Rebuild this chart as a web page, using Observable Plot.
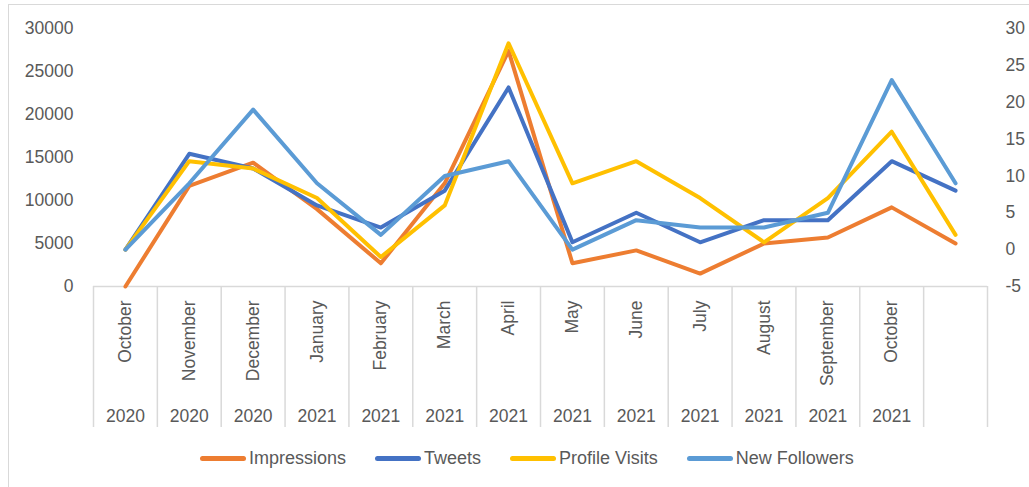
<!DOCTYPE html>
<html>
<head>
<meta charset="utf-8">
<script src="https://cdn.jsdelivr.net/npm/d3@7"></script>
<script src="https://cdn.jsdelivr.net/npm/@observablehq/plot@0.6"></script>
<style>
  html, body { margin: 0; padding: 0; background: #fff; overflow: hidden; }
  body { width: 1029px; height: 487px; position: relative; font-family: "Liberation Sans", Arial, sans-serif; }
  #frame { position: absolute; left: 8px; top: 4px; width: 1100px; height: 600px;
           border-top: 1.5px solid #d9d9d9; border-left: 1.5px solid #d9d9d9; pointer-events: none; }
  #chart { position: absolute; left: 0; top: 0; }
  #legend { position: absolute; left: 200px; top: 446px; height: 24px; display: flex; align-items: center;
            font-size: 18px; color: #595959; white-space: nowrap; }
  .item { display: flex; align-items: center; margin-right: 29px; }
  .sw { width: 46px; height: 5px; border-radius: 3px; margin-right: 3px; }
</style>
</head>
<body>
<div id="chart"></div>
<div id="legend"></div>
<div id="frame"></div>
<script>
// Category labels (two-level axis); the last slot is empty
const months = ["October","November","December","January","February","March","April","May","June","July","August","September","October",""];
const years  = ["2020","2020","2020","2021","2021","2021","2021","2021","2021","2021","2021","2021","2021",""];

// Series values (Impressions on left axis, others on right axis)
const impressions   = [0, 11700, 14400, 9000, 2700, 12000, 27400, 2700, 4200, 1500, 5000, 5700, 9200, 5000];
const tweets        = [0, 13, 11, 6, 3, 8, 22, 1, 5, 1, 4, 4, 12, 8];
const profileVisits = [0, 12, 11, 7, -1, 6, 28, 9, 12, 7, 1, 7, 16, 2];
const newFollowers  = [0, 9, 19, 9, 2, 10, 12, 0, 4, 3, 3, 5, 23, 9];

// Axis ticks
const leftTicks  = [0, 5000, 10000, 15000, 20000, 25000, 30000];
const rightTicks = [-5, 0, 5, 10, 15, 20, 25, 30];

const seriesNames  = ["Impressions", "Tweets", "Profile Visits", "New Followers"];
const seriesColors = ["#ED7D31", "#4472C4", "#FFC000", "#5B9BD5"];

// secondary axis mapping: right [-5, 30] -> left [0, 30000]
const leftDomain = [0, 30000], rightDomain = [-5, 30];
const toLeft = r => leftDomain[0] + (r - rightDomain[0]) * (leftDomain[1] - leftDomain[0]) / (rightDomain[1] - rightDomain[0]);
const fromLeft = l => rightDomain[0] + (l - leftDomain[0]) * (rightDomain[1] - rightDomain[0]) / (leftDomain[1] - leftDomain[0]);

const rows = months.map((m, i) => ({
  i,
  impressions: impressions[i],
  tweets: tweets[i],
  profileVisits: profileVisits[i],
  newFollowers: newFollowers[i]
}));

const n = months.length;
const boundaries = d3.range(n + 1).map(k => k - 0.5);
const lineOpts = {strokeWidth: 4, strokeLinejoin: "round", strokeLinecap: "round"};

const chart = Plot.plot({
  width: 1029,
  height: 440,
  marginLeft: 93,
  marginRight: 42,
  marginTop: 28,
  marginBottom: 154,
  style: {fontFamily: "Liberation Sans, Arial, sans-serif", fontSize: "17.5px", color: "#595959", background: "transparent"},
  x: {type: "linear", domain: [-0.5, n - 0.5]},
  y: {domain: leftDomain},
  marks: [
    Plot.axisX(boundaries, {tickSize: 141, tickFormat: () => "", stroke: "#d9d9d9", strokeWidth: 1.5, label: null}),
    Plot.ruleY([0], {stroke: "#d9d9d9", strokeWidth: 1.5}),
    Plot.axisY(leftTicks, {anchor: "left", tickSize: 0, tickPadding: 20, tickFormat: d3.format("d"), label: null, fill: "#595959"}),
    Plot.axisY(rightTicks.map(toLeft), {anchor: "right", tickSize: 0, tickPadding: 18, tickFormat: d => String(Math.round(fromLeft(d))), label: null, fill: "#595959"}),
    Plot.text(months, {x: (d, i) => i, frameAnchor: "bottom", dy: 14, rotate: -90, textAnchor: "end", lineAnchor: "middle", fill: "#595959"}),
    Plot.text(years, {x: (d, i) => i, frameAnchor: "bottom", dy: 130, lineAnchor: "middle", fill: "#595959"}),
    Plot.line(rows, {x: "i", y: "impressions", stroke: seriesColors[0], ...lineOpts}),
    Plot.line(rows, {x: "i", y: d => toLeft(d.tweets), stroke: seriesColors[1], ...lineOpts}),
    Plot.line(rows, {x: "i", y: d => toLeft(d.profileVisits), stroke: seriesColors[2], ...lineOpts}),
    Plot.line(rows, {x: "i", y: d => toLeft(d.newFollowers), stroke: seriesColors[3], ...lineOpts})
  ]
});
document.getElementById("chart").appendChild(chart);

const legend = document.getElementById("legend");
seriesNames.forEach((name, k) => {
  const item = document.createElement("div");
  item.className = "item";
  const sw = document.createElement("div");
  sw.className = "sw";
  sw.style.background = seriesColors[k];
  const label = document.createElement("span");
  label.textContent = name;
  item.appendChild(sw);
  item.appendChild(label);
  legend.appendChild(item);
});
</script>
</body>
</html>
